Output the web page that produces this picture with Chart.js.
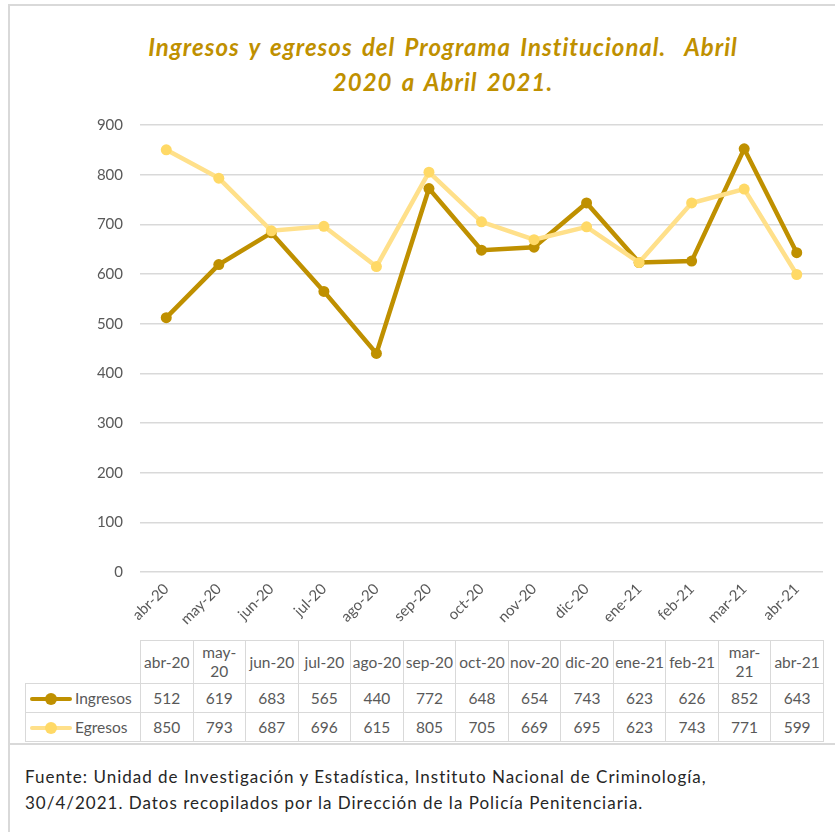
<!DOCTYPE html>
<html lang="es">
<head>
<meta charset="utf-8">
<script src="https://cdn.jsdelivr.net/npm/chart.js@4.4.0/dist/chart.umd.min.js"></script>
<style>
  html, body { margin: 0; padding: 0; background: #fff; }
  body { width: 835px; height: 832px; position: relative; overflow: hidden; font-family: Lato, "Open Sans", sans-serif; }
  #frame { position: absolute; left: 8px; top: 4px; width: 900px; height: 737px; border: 2px solid #d9d9d9; }
  #frameLeft { position: absolute; left: 8px; top: 4px; height: 830px; border-left: 2px solid #d9d9d9; }
  #title { position: absolute; left: 50px; top: 29px; width: 786px; text-align: center; color: #bf9000;
           font: italic bold 24px Lato, sans-serif; line-height: 35px; white-space: pre;
           letter-spacing: 1px; word-spacing: 3px; }
  #chartBox { position: absolute; left: 0; top: 0; }
  #dataTable { position: absolute; top: 640px; border-collapse: collapse; table-layout: fixed;
               font-size: 15.5px; color: #595959; }
  #dataTable td { border: 1px solid #d9d9d9; text-align: center; padding: 0; line-height: 19px; }
  #dataTable td .hd { margin: 0 auto; }
  #dataTable tr.head td { height: 42px; }
  #dataTable tr.row td { height: 28px; }
  #dataTable td.blank { border-top: none; border-left: none; }
  #dataTable td.name { text-align: left; padding-left: 4px; white-space: nowrap; }
  .key { display: inline-block; position: relative; width: 42px; height: 12px; vertical-align: middle; margin-right: 3px; margin-top: -2px; }
  .key .ln { position: absolute; left: 0; right: 0; top: 4px; height: 4.5px; border-radius: 2px; }
  .key .dot { position: absolute; left: 15px; top: 0; width: 12px; height: 12px; border-radius: 50%; }
  #fuente { position: absolute; left: 25px; top: 764px; font-size: 17px; line-height: 26px; color: #262626; letter-spacing: 1px; }
</style>
</head>
<body>
<div id="frame"></div>
<div id="frameLeft"></div>
<div id="title"></div>
<div id="chartBox"><canvas id="chart" width="835" height="640"></canvas></div>
<table id="dataTable"></table>
<div id="fuente"></div>

<script>
// Datos del gráfico
const TITLE_LINES = ['Ingresos y egresos del Programa Institucional.  Abril', '2020 a Abril 2021.'];
const meses = ['abr-20', 'may-20', 'jun-20', 'jul-20', 'ago-20', 'sep-20', 'oct-20',
               'nov-20', 'dic-20', 'ene-21', 'feb-21', 'mar-21', 'abr-21'];
const ingresos = [512, 619, 683, 565, 440, 772, 648, 654, 743, 623, 626, 852, 643];
const egresos = [850, 793, 687, 696, 615, 805, 705, 669, 695, 623, 743, 771, 599];
const yTicks = [0, 100, 200, 300, 400, 500, 600, 700, 800, 900];
const FUENTE_LINES = ['Fuente: Unidad de Investigación y Estadística, Instituto Nacional de Criminología,',
                      '30/4/2021. Datos recopilados por la Dirección de la Policía Penitenciaria.'];

const colIngresos = '#bf9000';
const colEgresos = '#ffe08a';
const colEgresosPt = '#ffd966';
const gris = '#595959';

document.getElementById('title').textContent = TITLE_LINES.join('\n');
document.getElementById('fuente').innerHTML = FUENTE_LINES.join('<br>');

const series = [
    { label: 'Ingresos', data: ingresos, line: colIngresos, point: colIngresos },
    { label: 'Egresos', data: egresos, line: colEgresos, point: colEgresosPt }
];

const ctx = document.getElementById('chart').getContext('2d');
const chart = new Chart(ctx, {
    type: 'line',
    data: {
        labels: meses,
        datasets: series.map((s, i) => ({
            label: s.label,
            data: s.data,
            borderColor: s.line,
            backgroundColor: s.point,
            pointBackgroundColor: s.point,
            pointBorderColor: s.point,
            borderWidth: 4.5,
            pointRadius: 5.5,
            pointBorderWidth: 0,
            tension: 0,
            order: i === 0 ? 1 : 0
        }))
    },
    options: {
        responsive: false,
        devicePixelRatio: 1,
        animation: false,
        layout: { padding: { top: 125, right: 12, bottom: 0, left: 0 } },
        plugins: { legend: { display: false }, tooltip: { enabled: false }, title: { display: false } },
        scales: {
            x: {
                offset: true,
                grid: { display: false, drawTicks: false },
                border: { display: false },
                ticks: { color: gris, font: { family: 'Lato', size: 15 }, minRotation: 45, maxRotation: 45, padding: 8 },
                afterFit: function(scale) { scale.height = 68; }
            },
            y: {
                min: 0,
                max: 900,
                afterBuildTicks: function(scale) { scale.ticks = yTicks.map(v => ({ value: v })); },
                grid: { color: '#d9d9d9', lineWidth: 1.5, drawTicks: false },
                border: { display: false },
                ticks: { color: gris, font: { family: 'Lato', size: 15 }, padding: 17 },
                afterFit: function(scale) { scale.width = 140; }
            }
        }
    }
});

// Tabla de datos alineada con las categorías del eje X
function renderTable() {
    const xs = chart.scales.x;
    const colW = (xs.right - xs.left) / meses.length;
    const tableLeft = 25;
    const firstW = xs.left - tableLeft;
    const table = document.getElementById('dataTable');
    table.style.left = tableLeft + 'px';
    table.style.width = (firstW + colW * meses.length) + 'px';

    // ancho del texto de cabecera: solo las dos etiquetas más anchas pasan a dos líneas
    ctx.font = '15.5px Lato';
    const anchos = meses.map(m => ctx.measureText(m).width).sort((a, b) => b - a);
    const maxHd = Math.min(colW - 2, (anchos[1] + anchos[2]) / 2);

    let html = '<colgroup><col style="width:' + firstW + 'px">';
    meses.forEach(() => { html += '<col style="width:' + colW + 'px">'; });
    html += '</colgroup>';

    html += '<tr class="head"><td class="blank"></td>';
    meses.forEach(m => { html += '<td><div class="hd" style="max-width:' + maxHd + 'px">' + m + '</div></td>'; });
    html += '</tr>';

    series.forEach(s => {
        html += '<tr class="row"><td class="name"><span class="key"><span class="ln" style="background:' + s.line +
                '"></span><span class="dot" style="background:' + s.point + '"></span></span>' + s.label + '</td>';
        s.data.forEach(v => { html += '<td>' + v + '</td>'; });
        html += '</tr>';
    });
    table.innerHTML = html;
}
renderTable();
</script>
</body>
</html>
